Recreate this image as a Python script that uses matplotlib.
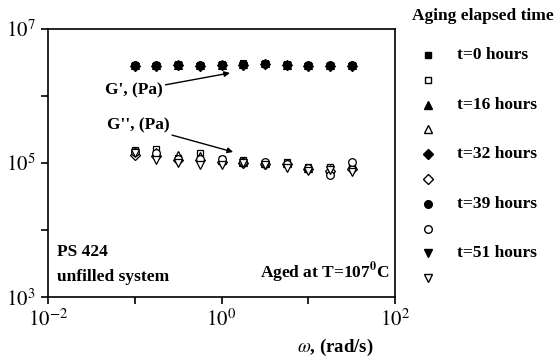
import numpy as np
import matplotlib.pyplot as plt
from matplotlib.lines import Line2D

plt.rcParams['font.family'] = 'Liberation Serif'
plt.rcParams['mathtext.fontset'] = 'stix'

# frequency sweep, rad/s
omega = [0.1, 0.178, 0.316, 0.562, 1.0, 1.78, 3.16, 5.62, 10.0, 17.8, 31.6]

# storage modulus G' (Pa) for each aging time
gp_0 = [2.9e6, 2.9e6, 2.95e6, 2.9e6, 2.95e6, 3.05e6, 3.1e6, 2.95e6, 2.9e6, 2.9e6, 2.9e6]
gp_16 = [2.85e6, 2.85e6, 2.9e6, 2.85e6, 2.9e6, 3.0e6, 3.05e6, 2.9e6, 2.85e6, 2.85e6, 2.85e6]
gp_32 = [2.8e6, 2.8e6, 2.85e6, 2.8e6, 2.85e6, 2.9e6, 2.95e6, 2.85e6, 2.8e6, 2.8e6, 2.8e6]
gp_39 = [2.9e6, 2.9e6, 2.9e6, 2.9e6, 2.9e6, 2.95e6, 3.0e6, 2.9e6, 2.85e6, 2.85e6, 2.85e6]
gp_51 = [2.7e6, 2.7e6, 2.75e6, 2.7e6, 2.75e6, 2.8e6, 2.85e6, 2.75e6, 2.7e6, 2.7e6, 2.7e6]

# loss modulus G'' (Pa)
gpp_0 = [1.55e5, 1.6e5, 1.2e5, 1.4e5, 1.15e5, 1.1e5, 1.0e5, 1.05e5, 8.8e4, 8.8e4, 9.0e4]
gpp_16 = [1.45e5, 1.45e5, 1.3e5, 1.25e5, 1.1e5, 1.05e5, 1.0e5, 1.0e5, 8.5e4, 8.0e4, 9.5e4]
gpp_32 = [1.3e5, 1.25e5, 1.1e5, 1.1e5, 1.05e5, 1.0e5, 9.5e4, 9.5e4, 8.0e4, 7.5e4, 8.0e4]
gpp_39 = [1.45e5, 1.4e5, 1.15e5, 1.15e5, 1.15e5, 1.05e5, 1.05e5, 9.5e4, 8.5e4, 6.6e4, 1.05e5]
gpp_51 = [1.4e5, 1.1e5, 1.0e5, 9.3e4, 9.3e4, 1.0e5, 9.3e4, 8.5e4, 7.6e4, 7.9e4, 7.4e4]

labels = ['t=0 hours', 't=16 hours', 't=32 hours', 't=39 hours', 't=51 hours']
markers = ['s', '^', 'D', 'o', 'v']
sizes = [5, 6, 5, 5.5, 6]
gp_all = [gp_0, gp_16, gp_32, gp_39, gp_51]
gpp_all = [gpp_0, gpp_16, gpp_32, gpp_39, gpp_51]

fig = plt.figure(figsize=(5.58, 3.61), dpi=100)
ax = fig.add_axes([0.086, 0.177, 0.622, 0.743])

for gp, gpp, m, s in zip(gp_all, gpp_all, markers, sizes):
    ax.plot(omega, gp, ls='none', marker=m, ms=s, mfc='black', mec='black', mew=0.8)
    ax.plot(omega, gpp, ls='none', marker=m, ms=s, mfc='white', mec='black', mew=0.9)

ax.set_xscale('log')
ax.set_yscale('log')
ax.set_xlim(1e-2, 1e2)
ax.set_ylim(1e3, 1e7)
ax.set_xticks([1e-2, 1e-1, 1e0, 1e1, 1e2])
ax.set_xticklabels(['$10^{-2}$', '', '$10^{0}$', '', '$10^{2}$'])
ax.set_yticks([1e3, 1e4, 1e5, 1e6, 1e7])
ax.set_yticklabels(['$10^{3}$', '', '$10^{5}$', '', '$10^{7}$'])
ax.minorticks_off()
ax.tick_params(direction='out', length=5, width=1.2, labelsize=15, pad=4)
for sp in ax.spines.values():
    sp.set_linewidth(1.2)

bold = dict(fontweight='bold', fontsize=12.5)
ax.annotate("G', (Pa)", xy=(1.25, 2.2e6), xytext=(0.21, 1.2e6),
            ha='right', va='center',
            arrowprops=dict(arrowstyle='-|>', color='black', lw=1.0,
                            mutation_scale=8, shrinkA=0, shrinkB=0), **bold)
ax.annotate("G'', (Pa)", xy=(1.36, 1.46e5), xytext=(0.25, 3.6e5),
            ha='right', va='center',
            arrowprops=dict(arrowstyle='-|>', color='black', lw=1.0,
                            mutation_scale=8, shrinkA=0, shrinkB=0), **bold)

ax.text(0.025, 0.17, 'PS 424', transform=ax.transAxes, va='center', **bold)
ax.text(0.025, 0.075, 'unfilled system', transform=ax.transAxes, va='center', **bold)
ax.text(0.985, 0.09, r'Aged at T=107$^{\mathbf{0}}$C', transform=ax.transAxes,
        ha='right', va='center', **bold)

fig.text(0.532, 0.025, r'$\omega$, (rad/s)', fontweight='bold', fontsize=13.5)

# legend drawn beside the axes
fig.text(0.738, 0.945, 'Aging elapsed time', **bold)
row_y = 1 - 55 / 361
step = 24.8 / 361
mx = 428 / 558
for i, (lab, m) in enumerate(zip(labels, markers)):
    y1 = row_y - 2 * i * step
    y2 = y1 - step
    fig.add_artist(Line2D([mx], [y1], transform=fig.transFigure, ls='none',
                          marker=m, ms=sizes[i], mfc='black', mec='black'))
    fig.add_artist(Line2D([mx], [y2], transform=fig.transFigure, ls='none',
                          marker=m, ms=sizes[i], mfc='white', mec='black', mew=1.0))
    fig.text(457 / 558, y1, lab, va='center', **bold)

fig.savefig('out.png', dpi=100)
